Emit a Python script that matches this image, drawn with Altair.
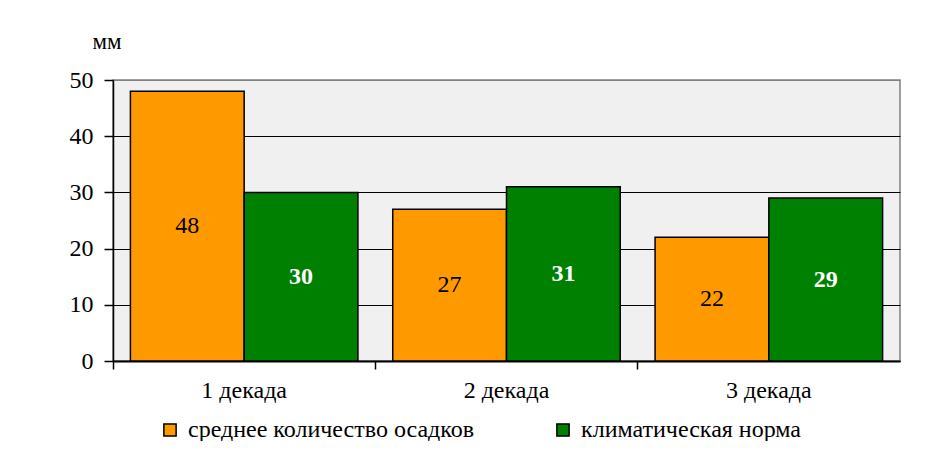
import altair as alt
import pandas as pd

categories = ["1 декада", "2 декада", "3 декада"]
series_names = ["среднее количество осадков", "климатическая норма"]
precip = [48, 27, 22]
norm = [30, 31, 29]
colors = ["#FF9900", "#008000"]
y_ticks = [0, 10, 20, 30, 40, 50]

rows = []
for i, c in enumerate(categories):
    rows.append({"cat": c, "series": series_names[0], "value": precip[i]})
    rows.append({"cat": c, "series": series_names[1], "value": norm[i]})
df = pd.DataFrame(rows)

FONT = "Liberation Serif, Times New Roman, serif"

base = alt.Chart(df).transform_calculate(mid="datum.value / 2")

x_enc = alt.X(
    "cat:N",
    sort=categories,
    scale=alt.Scale(paddingInner=0, paddingOuter=0),
    axis=alt.Axis(
        title=None, bandPosition=0, labelAngle=0, labelFont=FONT, labelFontSize=24,
        labelColor="black", tickColor="black", tickSize=8, tickWidth=1.5,
        domainColor="black", domainWidth=2, labelPadding=9,
    ),
)
xo_enc = alt.XOffset("series:N", sort=series_names,
                     scale=alt.Scale(paddingInner=0, paddingOuter=0.153))

y_axis = alt.Axis(
    values=y_ticks, title="мм", titleAngle=0, titleAlign="left", titleBaseline="alphabetic",
    titleX=-21, titleY=-32, titleFont=FONT, titleFontSize=23, titleFontWeight="normal",
    titleColor="black", labelFont=FONT, labelFontSize=24, labelColor="black",
    labelPadding=11, tickColor="black", tickSize=9, tickWidth=1.5,
    domainColor="black", domainWidth=1.5,
    gridColor={"condition": {"test": "datum.value >= 50", "value": "#808080"}, "value": "black"},
    gridWidth=1,
)

bars = base.mark_bar(stroke="black", strokeWidth=1.5).encode(
    x=x_enc,
    xOffset=xo_enc,
    y=alt.Y("value:Q", scale=alt.Scale(domain=[0, 50]), axis=y_axis),
    color=alt.Color(
        "series:N",
        sort=series_names,
        scale=alt.Scale(domain=series_names, range=colors),
        legend=alt.Legend(
            title=None, orient="none", legendX=45, legendY=338, direction="horizontal",
            symbolType="square", symbolSize=150, symbolStrokeColor="black",
            symbolStrokeWidth=1.5, labelFont=FONT, labelFontSize=24, labelColor="black",
            labelOffset=6, columnPadding=76, labelLimit=600,
        ),
    ),
)

text_orange = base.transform_filter(alt.datum.series == series_names[0]).mark_text(
    font=FONT, fontSize=24, color="black", baseline="middle"
).encode(
    x=x_enc, xOffset=xo_enc,
    y=alt.Y("mid:Q", scale=alt.Scale(domain=[0, 50])),
    text="value:Q",
)

text_green = base.transform_filter(alt.datum.series == series_names[1]).mark_text(
    font=FONT, fontSize=24, color="white", fontWeight="bold", baseline="middle"
).encode(
    x=x_enc, xOffset=xo_enc,
    y=alt.Y("mid:Q", scale=alt.Scale(domain=[0, 50])),
    text="value:Q",
)

chart = alt.layer(bars, text_orange, text_green).properties(
    width=787, height=281,
    autosize=alt.AutoSizeParams(type="none"),
    padding={"left": 105, "top": 72, "right": 30, "bottom": 80},
    background="white",
).configure(
    font=FONT
).configure_view(
    fill="#f0f0f0", stroke="#808080", strokeWidth=1.5
)

chart.save("out.html", embed_options={"renderer": "svg", "actions": False})
